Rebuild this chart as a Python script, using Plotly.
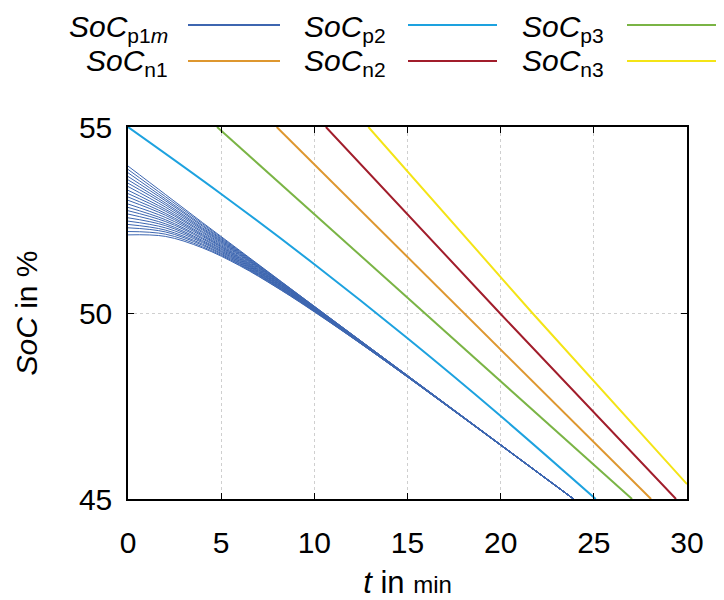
import plotly.graph_objects as go

# ---------------- data ----------------
t_p1m = [0, 2, 4, 6, 8, 10, 14, 23.9]
soc_p1m = [
    [53.95, 53.19, 52.43, 51.68, 50.93, 50.18, 48.69, 45.01],
    [53.86, 53.13, 52.40, 51.66, 50.92, 50.18, 48.69, 45.01],
    [53.77, 53.07, 52.36, 51.64, 50.91, 50.17, 48.69, 45.01],
    [53.67, 53.02, 52.33, 51.62, 50.89, 50.16, 48.69, 45.01],
    [53.58, 52.96, 52.29, 51.60, 50.88, 50.15, 48.68, 45.01],
    [53.49, 52.91, 52.26, 51.58, 50.87, 50.15, 48.68, 45.01],
    [53.40, 52.85, 52.23, 51.56, 50.86, 50.14, 48.68, 45.01],
    [53.30, 52.79, 52.19, 51.54, 50.84, 50.13, 48.67, 45.01],
    [53.21, 52.74, 52.16, 51.51, 50.83, 50.12, 48.67, 45.01],
    [53.12, 52.68, 52.12, 51.49, 50.82, 50.12, 48.67, 45.01],
    [53.03, 52.63, 52.09, 51.47, 50.81, 50.11, 48.67, 45.01],
    [52.93, 52.57, 52.06, 51.45, 50.79, 50.10, 48.66, 45.00],
    [52.84, 52.51, 52.02, 51.43, 50.78, 50.09, 48.66, 45.00],
    [52.75, 52.46, 51.99, 51.41, 50.77, 50.09, 48.66, 45.00],
    [52.66, 52.40, 51.95, 51.39, 50.76, 50.08, 48.65, 45.00],
    [52.56, 52.35, 51.92, 51.37, 50.74, 50.07, 48.65, 45.00],
    [52.47, 52.29, 51.89, 51.35, 50.73, 50.06, 48.65, 45.00],
    [52.38, 52.23, 51.85, 51.33, 50.72, 50.06, 48.65, 45.00],
    [52.29, 52.18, 51.82, 51.31, 50.71, 50.05, 48.64, 45.00],
    [52.19, 52.12, 51.78, 51.29, 50.69, 50.04, 48.64, 45.00],
    [52.10, 52.06, 51.75, 51.27, 50.68, 50.03, 48.64, 45.00],
]

t_p2 = [0, 5, 10, 15, 20, 25.1]
soc_p2 = [55.0, 53.20, 51.31, 49.32, 47.23, 45.0]

t_p3 = [4.78, 15.94, 27.05]
soc_p3 = [55.0, 50.0, 45.0]

t_n1 = [7.98, 18.02, 28.07]
soc_n1 = [55.0, 50.0, 45.0]

t_n2 = [10.62, 19.95, 29.41]
soc_n2 = [55.0, 50.0, 45.0]

t_n3 = [12.9, 21.7, 30.0]
soc_n3 = [55.0, 50.0, 45.4]

x_ticks = [0, 5, 10, 15, 20, 25, 30]
y_ticks = [45, 50, 55]

legend_labels = [
    "<i>SoC</i><sub>p1<i>m</i></sub>",
    "<i>SoC</i><sub>p2</sub>",
    "<i>SoC</i><sub>p3</sub>",
    "<i>SoC</i><sub>n1</sub>",
    "<i>SoC</i><sub>n2</sub>",
    "<i>SoC</i><sub>n3</sub>",
]

# ---------------- styles ----------------
C_P1M = "#3D66B0"
C_P2 = "#1DA2DF"
C_P3 = "#7AB445"
C_N1 = "#DE972F"
C_N2 = "#A11D2B"
C_N3 = "#F4E416"
legend_colors = [C_P1M, C_P2, C_P3, C_N1, C_N2, C_N3]
FONT = "Liberation Sans, Arial, sans-serif"

fig = go.Figure()

for row in soc_p1m:
    fig.add_trace(go.Scatter(x=t_p1m, y=row, mode="lines",
                             line=dict(color=C_P1M, width=1, shape="spline"),
                             showlegend=False, hoverinfo="skip"))

for tx, sy, col in [(t_p2, soc_p2, C_P2), (t_p3, soc_p3, C_P3),
                    (t_n1, soc_n1, C_N1), (t_n2, soc_n2, C_N2),
                    (t_n3, soc_n3, C_N3)]:
    fig.add_trace(go.Scatter(x=tx, y=sy, mode="lines",
                             line=dict(color=col, width=2,
                                       shape="spline" if tx is t_p2 else "linear"),
                             showlegend=False, hoverinfo="skip"))

# ---------------- custom gnuplot-like legend ----------------
OX, OY = 8, 7           # page offset of the figure in the screenshot
L, R, T, B = 120, 45, 119, 109
W, H = 724, 600
pw, ph = W - L - R, H - T - B

def px_x(p):
    return (p - OX - L) / pw

def px_y(p):
    return (H - B - (p - OY)) / ph

text_right = [170, 388, 606]
line_start = [188, 408, 627]
line_end = [280, 497, 716]
row_line_y = [24, 60]
row_text_y = [27, 62]

for i, (lab, col) in enumerate(zip(legend_labels, legend_colors)):
    r, c = divmod(i, 3)
    fig.add_annotation(x=px_x(text_right[c]), y=px_y(row_text_y[r]),
                       xref="paper", yref="paper", text=lab, showarrow=False,
                       xanchor="right", yanchor="middle",
                       font=dict(family=FONT, size=30, color="black"))
    fig.add_shape(type="line", xref="paper", yref="paper",
                  x0=px_x(line_start[c]), x1=px_x(line_end[c]),
                  y0=px_y(row_line_y[r]), y1=px_y(row_line_y[r]),
                  line=dict(color=col, width=2))

axis_common = dict(showline=True, linecolor="black", linewidth=1.5, mirror="ticks",
                   ticks="inside", ticklen=6, tickwidth=1, tickcolor="black",
                   showgrid=True, gridcolor="#cfcfcf", griddash="dot", gridwidth=1,
                   zeroline=False, tickfont=dict(family=FONT, size=30, color="black"))

fig.update_xaxes(range=[0, 30], tickvals=x_ticks, ticklabelstandoff=16,
                 title=dict(text="<i>t</i> in <span style='font-size:24px'>min</span>",
                            font=dict(family=FONT, size=31, color="black"), standoff=14),
                 **axis_common)
fig.update_yaxes(range=[45, 55], tickvals=y_ticks, ticklabelstandoff=8,
                 title=dict(text="<i>SoC</i> in %",
                            font=dict(family=FONT, size=30, color="black"), standoff=32),
                 **axis_common)

fig.update_layout(width=W, height=H, autosize=False,
                  margin=dict(l=L, r=R, t=T, b=B),
                  plot_bgcolor="white", paper_bgcolor="white",
                  showlegend=False)

fig.write_html("out.html")
